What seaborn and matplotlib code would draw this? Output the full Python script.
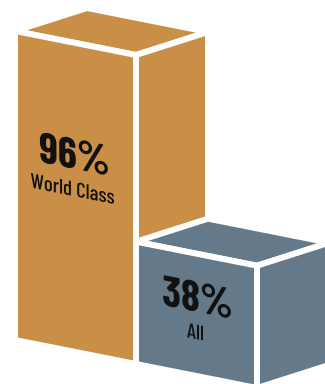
import numpy as np
import matplotlib
matplotlib.use("Agg")
import matplotlib.pyplot as plt
from matplotlib.patches import Polygon
from matplotlib import patheffects as pe
from matplotlib.transforms import Affine2D
import seaborn as sns

# ---- data ----
categories = ["World Class", "All"]
values = [96, 38]
value_labels = ["96%", "38%"]
bar_colors = ["#C98F47", "#647A8A"]

# ---- style / layout ----
sns.set_theme(style="white")
plt.rcParams["font.family"] = ["Barlow Condensed", "DejaVu Sans"]

W, H = 325, 384
fig = plt.figure(figsize=(W / 100, H / 100), dpi=100)
ax = fig.add_axes([0, 0, 1, 1])
ax.set_xlim(0, W)
ax.set_ylim(H, 0)
ax.axis("off")

origin = np.array([15.0, 340.0])      # front-bottom-left of first box
step = np.array([121.0, 24.0])        # front edge vector (one box width)
depth = np.array([72.0, -23.0])       # receding depth vector
px_per_unit = 309.0 / 96.0            # value scale
gap_lw = 4.3                          # white separator (pt)
slope = step[1] / step[0]


class ShearY(pe.AbstractPathEffect):
    """Vertical shear of text about its anchor (keeps strokes upright)."""

    def __init__(self, axes, xy, k):
        super().__init__()
        self.axes, self.xy, self.k = axes, xy, k

    def draw_path(self, renderer, gc, tpath, affine, rgbFace=None):
        x0, y0 = self.axes.transData.transform(self.xy)
        sh = (Affine2D().translate(-x0, -y0)
              + Affine2D(np.array([[1.0, 0, 0], [-self.k, 1.0, 0], [0, 0, 1.0]]))
              + Affine2D().translate(x0, y0))
        renderer.draw_path(gc, tpath, affine + sh, rgbFace)


for i, (cat, v, lab, col) in enumerate(zip(categories, values, value_labels, bar_colors)):
    h = v * px_per_unit
    up = np.array([0.0, -h])
    fbl = origin + i * step
    fbr = fbl + step
    ftl = fbl + up
    ftr = fbr + up
    faces = [
        [ftl, ftr, ftr + depth, ftl + depth],          # top
        [fbl, fbr, ftr, ftl],                          # front
        [fbr, fbr + depth, ftr + depth, ftr],          # side
    ]
    for f in faces:
        ax.add_patch(Polygon(np.array(f), closed=True, facecolor=col,
                             edgecolor="white", linewidth=gap_lw, joinstyle="bevel"))
    # labels on front face
    cx = fbl[0] + step[0] / 2
    top_c = ftl[1] + step[1] / 2
    cy = top_c + 0.37 * h + 1.5 * i
    p1 = (cx - 1 + 2 * i, cy)
    p2 = (cx - 3 + 2 * i, cy + 33)
    ax.text(*p1, lab, ha="center", va="center", fontsize=31, fontweight="bold",
            color="#111111", path_effects=[ShearY(ax, p1, slope)])
    ax.text(*p2, cat, ha="center", va="center", fontsize=15, fontweight="medium",
            color="#111111", path_effects=[ShearY(ax, p2, slope)])

fig.savefig("out.png", dpi=100, facecolor="white")
